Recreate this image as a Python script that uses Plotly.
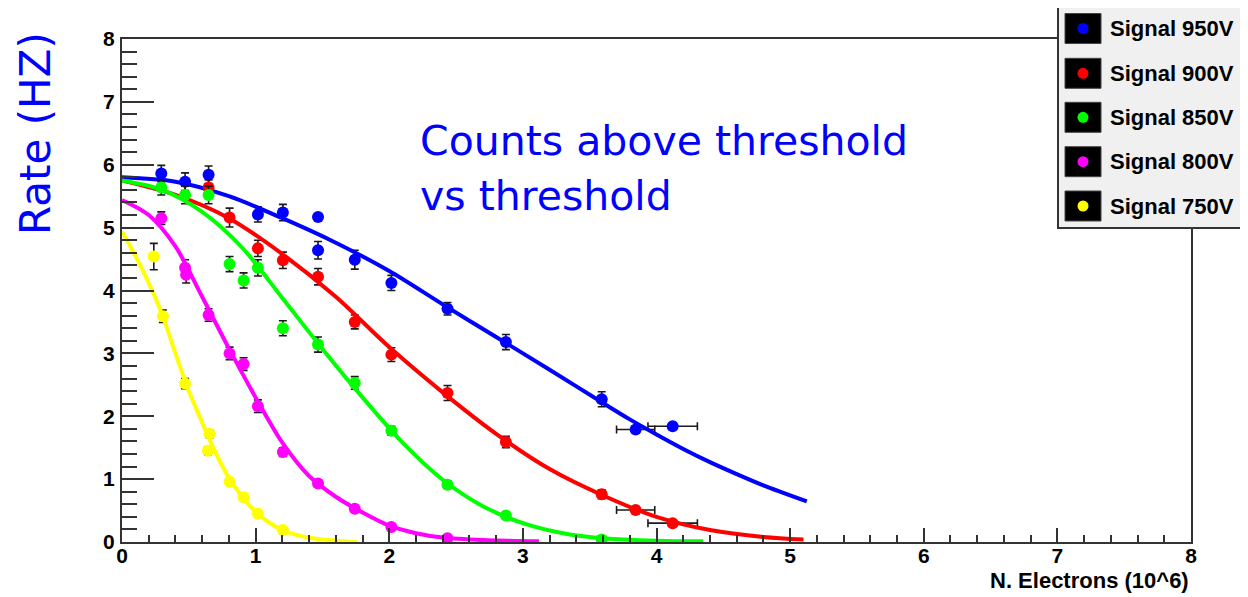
import plotly.graph_objects as go

# ---------------- data ----------------
series_names = ["Signal 950V", "Signal 900V", "Signal 850V", "Signal 800V", "Signal 750V"]
series_colors = ["#0000ff", "#ff0000", "#00ff00", "#ff00ff", "#ffff00"]

# measured points
x_950 = [0.294, 0.472, 0.648, 1.017, 1.204, 1.467, 1.467, 1.742, 2.016, 2.436, 2.873, 3.590, 3.844, 4.121]
y_950 = [5.86, 5.73, 5.84, 5.21, 5.24, 5.17, 4.64, 4.49, 4.12, 3.71, 3.18, 2.27, 1.79, 1.84]
ey_950 = [0.13, 0.14, 0.14, 0.12, 0.13, 0.05, 0.14, 0.15, 0.12, 0.10, 0.12, 0.12, 0.05, 0.05]
ex_950 = [0, 0, 0, 0, 0, 0, 0, 0, 0, 0, 0, 0, 0.143, 0.185]

x_900 = [0.648, 0.805, 1.017, 1.204, 1.467, 1.742, 2.016, 2.436, 2.873, 3.590, 3.844, 4.121]
y_900 = [5.64, 5.16, 4.67, 4.48, 4.22, 3.50, 2.98, 2.37, 1.59, 0.76, 0.51, 0.30]
ey_900 = [0.12, 0.15, 0.13, 0.13, 0.13, 0.11, 0.11, 0.12, 0.09, 0.07, 0.05, 0.04]
ex_900 = [0, 0, 0, 0, 0, 0, 0, 0, 0, 0, 0.143, 0.185]

x_850 = [0.294, 0.472, 0.648, 0.805, 0.910, 1.017, 1.204, 1.467, 1.742, 2.016, 2.436, 2.873, 3.590]
y_850 = [5.64, 5.52, 5.52, 4.42, 4.16, 4.36, 3.40, 3.14, 2.53, 1.77, 0.91, 0.42, 0.04]
ey_850 = [0.12, 0.14, 0.14, 0.12, 0.12, 0.13, 0.12, 0.12, 0.10, 0.07, 0.06, 0.05, 0.05]

x_800 = [0.294, 0.472, 0.480, 0.648, 0.805, 0.910, 1.017, 1.204, 1.467, 1.742, 2.016, 2.436]
y_800 = [5.15, 4.36, 4.25, 3.61, 3.00, 2.83, 2.16, 1.43, 0.93, 0.53, 0.24, 0.06]
ey_800 = [0.10, 0.13, 0.13, 0.10, 0.10, 0.10, 0.10, 0.07, 0.06, 0.05, 0.04, 0.03]

x_750 = [0.238, 0.306, 0.472, 0.643, 0.655, 0.805, 0.910, 1.017, 1.204]
y_750 = [4.54, 3.59, 2.52, 1.45, 1.72, 0.96, 0.71, 0.45, 0.19]
ey_750 = [0.21, 0.10, 0.08, 0.06, 0.06, 0.05, 0.04, 0.04, 0.03]

# fitted curves
fx_950 = [0, 0.4, 0.8, 1.2, 1.6, 2.0, 2.4, 2.8, 3.2, 3.6, 3.8, 4.0, 4.2, 4.4, 4.6, 4.8, 5.125]
fy_950 = [5.80, 5.73, 5.50, 5.15, 4.76, 4.31, 3.78, 3.26, 2.74, 2.21, 1.95, 1.71, 1.48, 1.27, 1.08, 0.90, 0.645]

fx_900 = [0, 0.4, 0.8, 1.2, 1.6, 2.0, 2.4, 2.8, 3.2, 3.6, 4.0, 4.4, 4.8, 5.1]
fy_900 = [5.75, 5.52, 5.15, 4.58, 3.90, 3.10, 2.38, 1.72, 1.16, 0.74, 0.40, 0.19, 0.08, 0.04]

fx_850 = [0, 0.3, 0.6, 0.9, 1.2, 1.5, 1.8, 2.1, 2.4, 2.7, 3.0, 3.3, 3.6, 4.0, 4.35]
fy_850 = [5.75, 5.60, 5.25, 4.68, 3.88, 3.07, 2.30, 1.58, 0.99, 0.57, 0.30, 0.14, 0.06, 0.02, 0.01]

fx_800 = [0, 0.2, 0.4, 0.6, 0.8, 1.0, 1.2, 1.4, 1.6, 1.8, 2.0, 2.2, 2.4, 2.7, 3.12]
fy_800 = [5.44, 5.20, 4.70, 3.90, 3.08, 2.30, 1.58, 1.05, 0.72, 0.47, 0.26, 0.14, 0.07, 0.03, 0.01]

fx_750 = [0, 0.1, 0.2, 0.3, 0.4, 0.5, 0.6, 0.7, 0.8, 0.9, 1.0, 1.1, 1.2, 1.35, 1.5, 1.76]
fy_750 = [4.94, 4.55, 4.12, 3.62, 3.00, 2.40, 1.90, 1.42, 1.02, 0.72, 0.48, 0.31, 0.19, 0.09, 0.04, 0.0]

x_ticks = [0, 1, 2, 3, 4, 5, 6, 7, 8]
y_ticks = [0, 1, 2, 3, 4, 5, 6, 7, 8]

x_title = "N. Electrons (10^6)"
y_title = "Rate (HZ)"
title_lines = ["Counts above threshold", "vs threshold"]

points = [
    (x_950, y_950, ey_950, ex_950),
    (x_900, y_900, ey_900, ex_900),
    (x_850, y_850, ey_850, None),
    (x_800, y_800, ey_800, None),
    (x_750, y_750, ey_750, None),
]
fits = [(fx_950, fy_950), (fx_900, fy_900), (fx_850, fy_850), (fx_800, fy_800), (fx_750, fy_750)]

# ---------------- figure ----------------
# the page body has an 8px margin, so the figure is placed at (8, 8) on screen
OFF = 8
W, H = 1248 - OFF, 597 - OFF
# screen-pixel plot box: x 122..1191, y 39..542
ML, MR, MT, MB = 122 - OFF, 1248 - 1191, 39 - OFF, 597 - 542
PW, PH = W - ML - MR, H - MT - MB


def px(xs):  # screen x pixel -> paper
    return (xs - OFF - ML) / PW


def py(ys):  # screen y pixel -> paper
    return (H - MB - (ys - OFF)) / PH


fig = go.Figure()

for (xs, ys, eys, exs), (fxs, fys), name, col in zip(points, fits, series_names, series_colors):
    err_x = dict(type="data", array=exs, visible=True, color="#1a1a1a", thickness=1.6, width=4) if exs else None
    fig.add_trace(go.Scatter(
        x=xs, y=ys, mode="markers", name=name, showlegend=False,
        marker=dict(color=col, size=12, symbol="circle", line=dict(width=0)),
        error_y=dict(type="data", array=eys, visible=True, color="#1a1a1a", thickness=1.6, width=4),
        error_x=err_x,
    ))
    fig.add_trace(go.Scatter(
        x=fxs, y=fys, mode="lines", name=name + " fit", showlegend=False,
        line=dict(color=col, width=4, shape="spline", smoothing=0.9),
    ))

axis_common = dict(
    showgrid=False, zeroline=False, showline=True, mirror=True,
    linecolor="#333333", linewidth=2, ticks="inside", tickcolor="#333333",
    tickwidth=1.5, tickfont=dict(family="Liberation Sans", size=21, color="black", weight="bold"),
    range=[0, 8], tickmode="array",
)

fig.update_xaxes(**axis_common, tickvals=x_ticks, ticktext=[str(v) for v in x_ticks],
                 ticklen=14, ticklabelstandoff=-6,
                 minor=dict(ticks="inside", ticklen=7, dtick=0.2, tickcolor="#333333", tickwidth=1.5))
fig.update_yaxes(**axis_common, tickvals=y_ticks, ticktext=[str(v) for v in y_ticks],
                 ticklen=32, ticklabelstandoff=1,
                 minor=dict(ticks="inside", ticklen=15, dtick=0.2, tickcolor="#333333", tickwidth=1.5))

annotations = []
# title lines
annotations.append(dict(x=px(418), y=py(141), xref="paper", yref="paper", text=title_lines[0],
                        showarrow=False, xanchor="left", yanchor="middle",
                        font=dict(family="DejaVu Sans", size=41, color="#0000ff")))
annotations.append(dict(x=px(418), y=py(196), xref="paper", yref="paper", text=title_lines[1],
                        showarrow=False, xanchor="left", yanchor="middle",
                        font=dict(family="DejaVu Sans", size=41, color="#0000ff")))
# axis titles
annotations.append(dict(x=px(36), y=py(134), xref="paper", yref="paper", text=y_title, textangle=-90,
                        showarrow=False, xanchor="center", yanchor="middle",
                        font=dict(family="DejaVu Sans", size=42, color="#0000ff")))
annotations.append(dict(x=px(1191), y=py(580), xref="paper", yref="paper", text=x_title,
                        showarrow=False, xanchor="right", yanchor="middle",
                        font=dict(family="Liberation Sans", size=22, color="black", weight="bold")))

shapes = []
# legend box
shapes.append(dict(type="rect", xref="paper", yref="paper", x0=px(1058), x1=px(1245), y0=py(228), y1=py(6),
                   fillcolor="#f0f0f0", line=dict(color="#333333", width=2), layer="above"))
legend_centers = [28.5, 73.3, 117.3, 161.7, 206.0]
for cy, name, col in zip(legend_centers, series_names, series_colors):
    shapes.append(dict(type="rect", xref="paper", yref="paper", x0=px(1065), x1=px(1101),
                       y0=py(cy + 15), y1=py(cy - 15), fillcolor="black",
                       line=dict(color="#444444", width=1), layer="above"))
    shapes.append(dict(type="circle", xref="paper", yref="paper", x0=px(1083 - 5.5), x1=px(1083 + 5.5),
                       y0=py(cy + 5.5), y1=py(cy - 5.5), fillcolor=col, line=dict(width=0), layer="above"))
    annotations.append(dict(x=px(1108), y=py(cy), xref="paper", yref="paper", text=name,
                            showarrow=False, xanchor="left", yanchor="middle",
                            font=dict(family="Liberation Sans", size=22, color="black", weight="bold")))

fig.update_layout(
    width=W, height=H, autosize=False,
    margin=dict(l=ML, r=MR, t=MT, b=MB, pad=0),
    paper_bgcolor="white", plot_bgcolor="white",
    showlegend=False, annotations=annotations, shapes=shapes,
)

fig.write_html("out.html")
